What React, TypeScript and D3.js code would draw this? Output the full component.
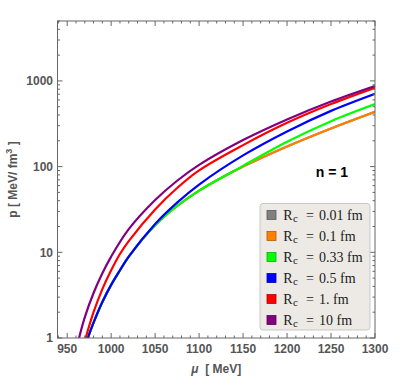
import { useEffect, useRef } from "react";
import * as d3 from "d3";

// series (mu in MeV, p in MeV/fm^3)
const seriesLabels = ["0.01", "0.1", "0.33", "0.5", "1.", "10"];
const seriesColors = ["#808080", "#ff8000", "#00ff00", "#0000ff", "#ff0000", "#800080"];

const muLow = [973.5, 980, 990, 1000, 1010, 1020, 1050, 1075, 1100, 1150, 1200, 1250, 1300];
const pGray = [1, 1.51, 2.63, 4.17, 6.17, 8.91, 20.7, 34.7, 52.5, 100, 172, 279, 437];
const pOrange = [1, 1.51, 2.63, 4.17, 6.17, 8.91, 20.7, 34.7, 52.5, 100, 172, 279, 437];
const pGreen = [1, 1.51, 2.63, 4.17, 6.17, 8.91, 20.7, 34.7, 52.5, 102, 195, 339, 537];
const pBlue = [1, 1.51, 2.63, 4.17, 6.17, 8.91, 21.4, 38.0, 61.7, 135, 257, 447, 708];

const muRed = [971, 980, 990, 1000, 1010, 1020, 1050, 1075, 1100, 1150, 1200, 1250, 1300];
const pRed = [1, 2.0, 3.72, 6.17, 9.55, 13.5, 31.6, 56.2, 90.2, 178, 324, 537, 832];

const muPurple = [963.5, 970, 980, 990, 1000, 1020, 1050, 1075, 1100, 1150, 1200, 1250, 1300];
const pPurple = [1, 1.74, 3.35, 5.69, 8.91, 18.6, 40.7, 68.4, 104.7, 204, 355, 575, 871];

const xMajorTicks = [950, 1000, 1050, 1100, 1150, 1200, 1250, 1300];
const yMajorTicks = [1, 10, 100, 1000];

const App = () => {
  const svgRef = useRef<SVGSVGElement>(null);

  useEffect(() => {
    const svg = d3.select(svgRef.current);
    svg.selectAll("*").remove();

    const left = 57.5;
    const right = 375;
    const top = 21;
    const bottom = 338;
    const frameColor = "#666";
    const labelColor = "#555";

    const x = d3.scaleLinear().domain([939, 1300]).range([left, right]);
    const y = d3.scaleLog().domain([1, 5000]).range([bottom, top]);

    svg
      .append("defs")
      .append("clipPath")
      .attr("id", "plotClip")
      .append("rect")
      .attr("x", left)
      .attr("y", top)
      .attr("width", right - left)
      .attr("height", bottom - top);

    const series = [
      { mu: muLow, p: pGray },
      { mu: muLow, p: pOrange },
      { mu: muLow, p: pGreen },
      { mu: muLow, p: pBlue },
      { mu: muRed, p: pRed },
      { mu: muPurple, p: pPurple },
    ];

    const line = d3
      .line<[number, number]>()
      .x((d) => x(d[0]))
      .y((d) => y(d[1]))
      .curve(d3.curveCatmullRom.alpha(0.5));

    const g = svg.append("g").attr("clip-path", "url(#plotClip)");
    series.forEach((s, i) => {
      const pts: [number, number][] = s.mu.map((m, j) => [m, s.p[j]]);
      g.append("path")
        .attr("d", line(pts))
        .attr("fill", "none")
        .attr("stroke", seriesColors[i])
        .attr("stroke-width", 2.2);
    });

    // frame
    svg
      .append("rect")
      .attr("x", left)
      .attr("y", top)
      .attr("width", right - left)
      .attr("height", bottom - top)
      .attr("fill", "none")
      .attr("stroke", frameColor)
      .attr("stroke-width", 1);

    // x ticks
    const xMinor = d3.range(940, 1300, 10).filter((v) => v % 50 !== 0);
    const ticks = svg.append("g").attr("stroke", frameColor).attr("stroke-width", 1);
    xMajorTicks.forEach((v) => {
      ticks.append("line").attr("x1", x(v)).attr("x2", x(v)).attr("y1", bottom).attr("y2", bottom - 5);
      ticks.append("line").attr("x1", x(v)).attr("x2", x(v)).attr("y1", top).attr("y2", top + 5);
    });
    xMinor.forEach((v) => {
      ticks.append("line").attr("x1", x(v)).attr("x2", x(v)).attr("y1", bottom).attr("y2", bottom - 2.5);
      ticks.append("line").attr("x1", x(v)).attr("x2", x(v)).attr("y1", top).attr("y2", top + 2.5);
    });

    // y ticks
    const yMinor: number[] = [];
    yMajorTicks.forEach((d) => {
      d3.range(2, 10).forEach((k) => {
        if (d * k <= 5000) yMinor.push(d * k);
      });
    });
    yMajorTicks.forEach((v) => {
      ticks.append("line").attr("x1", left).attr("x2", left + 5).attr("y1", y(v)).attr("y2", y(v));
      ticks.append("line").attr("x1", right).attr("x2", right - 5).attr("y1", y(v)).attr("y2", y(v));
    });
    yMinor.forEach((v) => {
      ticks.append("line").attr("x1", left).attr("x2", left + 2.5).attr("y1", y(v)).attr("y2", y(v));
      ticks.append("line").attr("x1", right).attr("x2", right - 2.5).attr("y1", y(v)).attr("y2", y(v));
    });

    const font = "'Liberation Sans', Arial, sans-serif";

    xMajorTicks.forEach((v) => {
      svg
        .append("text")
        .attr("x", x(v))
        .attr("y", 352.5)
        .attr("text-anchor", "middle")
        .attr("font-family", font)
        .attr("font-weight", "bold")
        .attr("font-size", 12)
        .attr("fill", labelColor)
        .text(v);
    });
    yMajorTicks.forEach((v) => {
      svg
        .append("text")
        .attr("x", 53)
        .attr("y", y(v) + 4.3)
        .attr("text-anchor", "end")
        .attr("font-family", font)
        .attr("font-weight", "bold")
        .attr("font-size", 12)
        .attr("fill", labelColor)
        .text(v);
    });

    // axis labels
    const xl = svg
      .append("text")
      .attr("x", (left + right) / 2)
      .attr("y", 373)
      .attr("text-anchor", "middle")
      .attr("font-family", font)
      .attr("font-weight", "bold")
      .attr("font-size", 12)
      .attr("fill", labelColor);
    xl.append("tspan").attr("font-style", "italic").text("μ");
    xl.append("tspan").attr("xml:space", "preserve").text("  [ MeV]");

    const yl = svg
      .append("text")
      .attr("transform", `translate(17,${(top + bottom) / 2}) rotate(-90)`)
      .attr("text-anchor", "middle")
      .attr("font-family", font)
      .attr("font-weight", "bold")
      .attr("font-size", 12)
      .attr("fill", labelColor);
    yl.append("tspan").text("p [ MeV/ fm");
    yl.append("tspan").attr("font-size", 9).attr("dy", -5).text("3");
    yl.append("tspan").attr("dy", 5).text(" ]");

    svg
      .append("text")
      .attr("x", 332)
      .attr("y", 176.5)
      .attr("text-anchor", "middle")
      .attr("font-family", font)
      .attr("font-weight", "bold")
      .attr("font-size", 14)
      .attr("fill", "#000")
      .text("n = 1");

    // legend
    const lg = svg.append("g");
    lg.append("rect")
      .attr("x", 260)
      .attr("y", 203.5)
      .attr("width", 110)
      .attr("height", 126.5)
      .attr("rx", 3)
      .attr("fill", "#edeae5")
      .attr("stroke", "#c9c9c9")
      .attr("stroke-width", 1);

    const serif = "'Liberation Serif', 'Times New Roman', serif";
    seriesLabels.forEach((lab, i) => {
      const cy = 215 + i * 21;
      lg.append("rect")
        .attr("x", 267)
        .attr("y", cy - 4.5)
        .attr("width", 9)
        .attr("height", 9)
        .attr("fill", seriesColors[i])
        .attr("stroke", d3.color(seriesColors[i])!.darker(1).toString())
        .attr("stroke-width", 0.8);
      const t = lg
        .append("text")
        .attr("y", cy + 5)
        .attr("font-family", serif)
        .attr("font-size", 14)
        .attr("fill", "#1a1a1a");
      t.append("tspan").attr("x", 283.3).text("R");
      t.append("tspan").attr("x", 293).attr("dy", 2).attr("font-size", 11).text("c");
      t.append("tspan").attr("x", 306).attr("dy", -2).text("=");
      t.append("tspan").attr("x", 319).text(`${lab} fm`);
    });
  }, []);

  return (
    <svg
      ref={svgRef}
      width={400}
      height={378}
      style={{ position: "absolute", left: 0, top: 0, background: "#fff" }}
    />
  );
};

export default App;
